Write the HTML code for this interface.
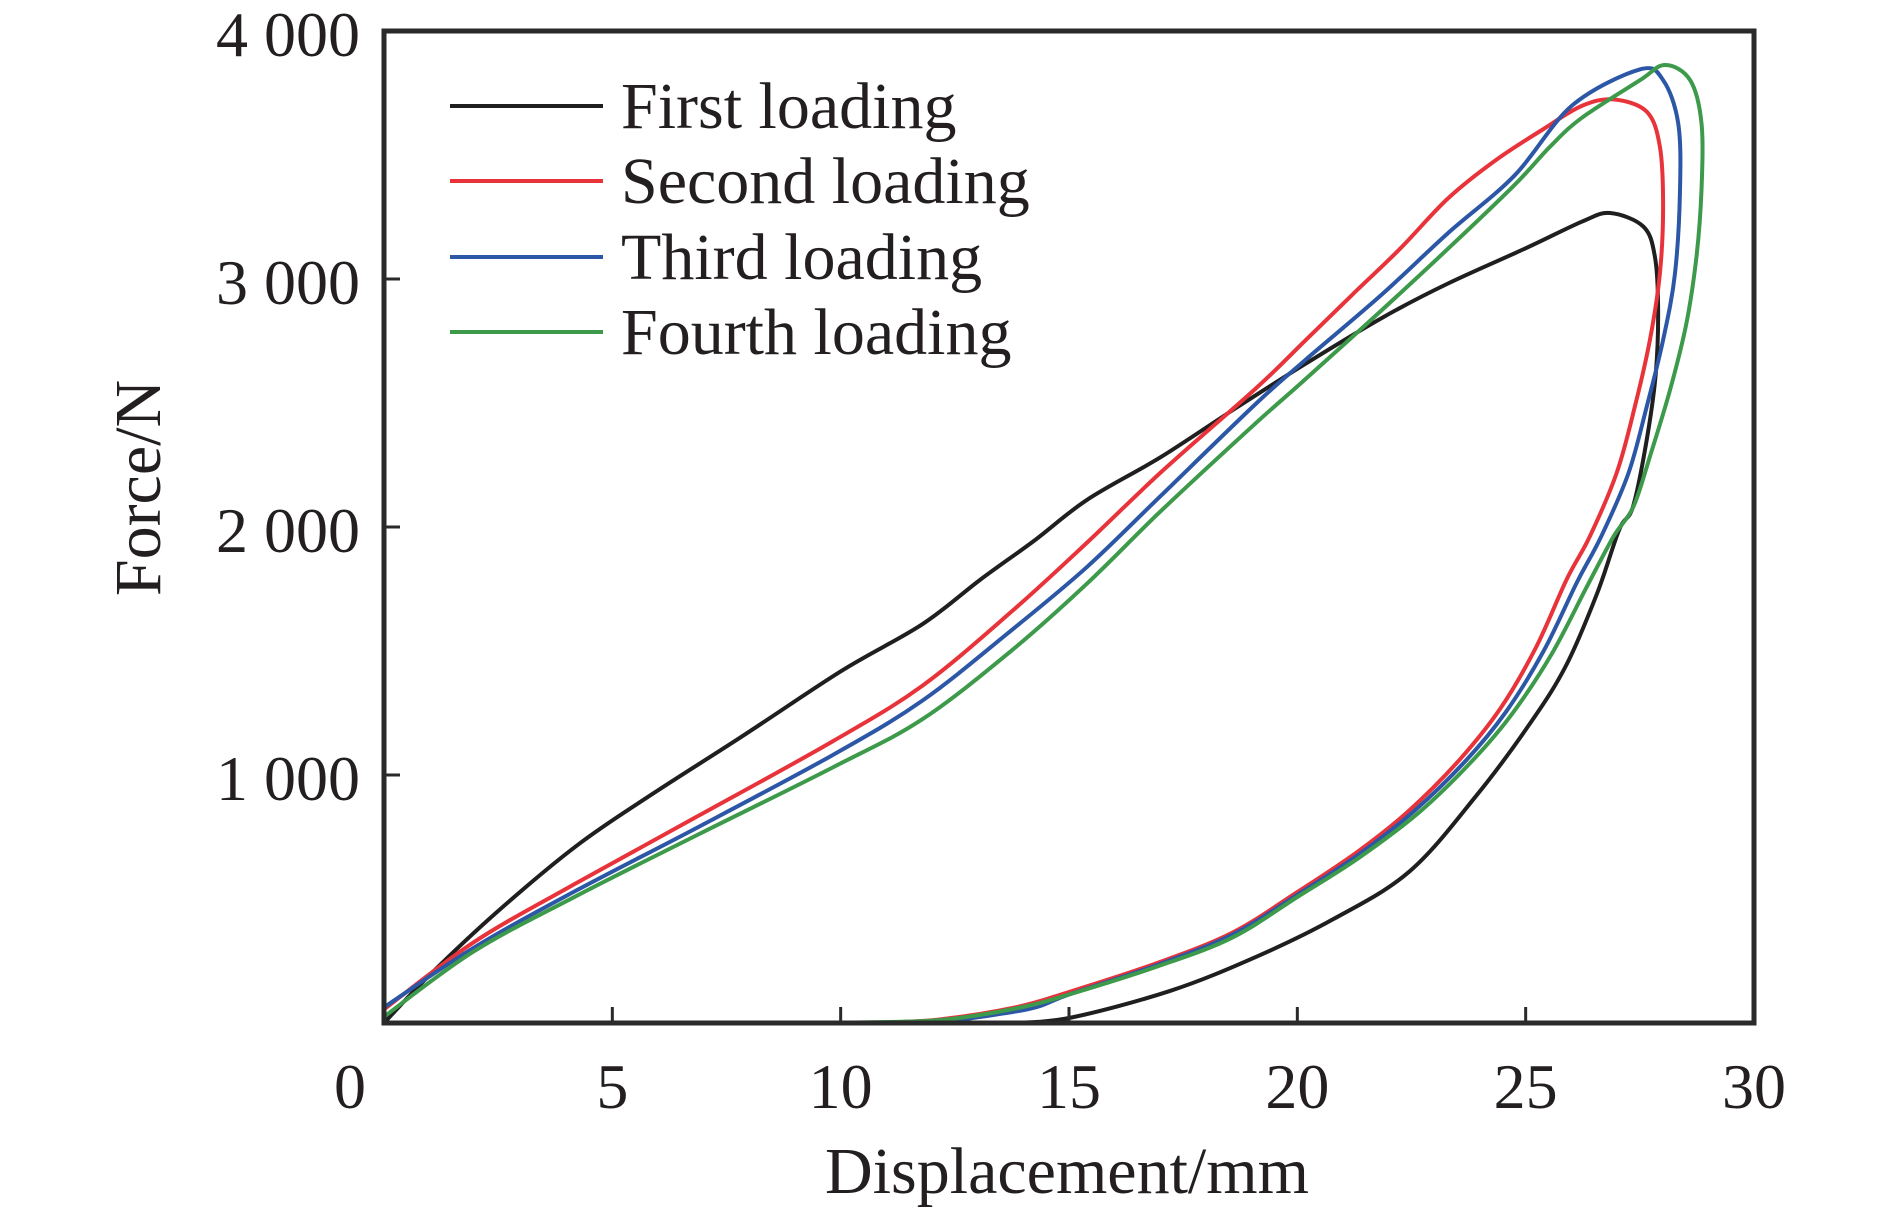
<!DOCTYPE html>
<html><head><meta charset="utf-8"><style>
html,body{margin:0;padding:0;background:#fff;}
svg{display:block;}
text{font-family:"Liberation Serif",serif;fill:#231f20;}
</style></head><body>
<svg id="chart" width="1890" height="1211" viewBox="0 0 1890 1211" xmlns="http://www.w3.org/2000/svg">
<g id="series"></g>
<g id="axes"></g>
<g id="legend"></g>
</svg>
<script>
const xTicks = [0, 5, 10, 15, 20, 25, 30];
const yTicks = [0, 1000, 2000, 3000, 4000];
const yTickLabels = ["0", "1 000", "2 000", "3 000", "4 000"];
const seriesNames = ["First loading", "Second loading", "Third loading", "Fourth loading"];
const seriesColors = ["#1f1f1f", "#e8333a", "#2c57a6", "#3c9a4a"];
const firstX = [0,0.98,2.46,4.22,5.89,7.86,10.02,11.79,13.06,14.24,15.4,17.01,18.69,20.16,21.84,23.3,24.98,26.23,26.85,27.58,27.83,27.9,27.85,27.65,27.35,27.05,26.57,25.9,25.12,23.9,22.45,20.78,19.1,17.22,15,13.66];
const firstY = [0,190,445,715,925,1158,1420,1608,1788,1945,2110,2282,2484,2656,2842,2982,3122,3231,3266,3211,3090,2888,2620,2351,2082,1990,1735,1447,1214,912,610,418,267,130,20,0];
const secondX = [0,1.96,4.22,6.88,9.82,11.79,13.75,15.4,17.01,19.11,20.16,21.2,22.25,23.3,24.35,25.39,26.23,26.92,27.65,27.94,28.01,27.94,27.72,27.39,26.99,26.4,25.9,25.23,24.45,23.56,22.45,21.34,20,18.56,16.9,15,13.87,12.19,10.8];
const secondY = [55,325,565,835,1135,1360,1660,1938,2220,2562,2749,2936,3122,3325,3480,3605,3698,3724,3675,3533,3291,3023,2754,2485,2216,1960,1790,1516,1269,1063,857,693,528,363,240,125,65,15,0];
const thirdX = [0,1.96,4.22,6.88,9.82,11.79,13.75,15.4,17.01,19.11,20.16,21.84,23.3,24.76,26.02,27.5,28.01,28.34,28.38,28.27,28.01,27.65,27.25,26.65,26.12,25.4,24.57,23.68,22.56,21.34,20,18.56,16.9,15,14.08,12.1];
const thirdY = [63,303,535,790,1080,1300,1585,1840,2126,2500,2671,2936,3185,3418,3700,3845,3802,3628,3359,3023,2754,2485,2216,1960,1776,1502,1255,1056,855,679,517,355,232,115,55,0];
const fourthX = [0,1.96,4.22,6.88,9.82,11.79,13.75,15.4,17.01,19.11,20.16,21.84,23.3,24.76,25.53,26.23,27.49,28.05,28.6,28.85,28.85,28.74,28.52,28.16,27.72,27.36,26.92,26.35,25.57,24.68,23.79,22.67,21.34,20,18.56,16.9,15,13.87,12.19,10.31];
const fourthY = [25,288,513,760,1030,1225,1503,1773,2064,2422,2593,2873,3122,3380,3533,3650,3800,3863,3802,3628,3359,3090,2821,2552,2284,2082,1960,1763,1488,1241,1049,850,665,508,343,226,115,60,12,2];

const X0 = 384, X1 = 1754, Y0 = 1023, Y1 = 31;
function sx(v){ return X0 + (v - 0) / 30 * (X1 - X0); }
function sy(v){ return Y0 - (v - 0) / 4000 * (Y0 - Y1); }
const NS = "http://www.w3.org/2000/svg";
function mk(tag, attrs, parent){
  const e = document.createElementNS(NS, tag);
  for (const k in attrs) e.setAttribute(k, attrs[k]);
  parent.appendChild(e); return e;
}
function smoothPath(xs, ys){
  const p = xs.map((x,i)=>[sx(x), sy(ys[i])]);
  let d = "M" + p[0][0].toFixed(1) + "," + p[0][1].toFixed(1);
  for (let i = 0; i < p.length - 1; i++){
    const a = p[Math.max(i-1,0)], b = p[i], c = p[i+1], e = p[Math.min(i+2,p.length-1)];
    const c1 = [b[0] + (c[0]-a[0])/6, b[1] + (c[1]-a[1])/6];
    const c2 = [c[0] - (e[0]-b[0])/6, c[1] - (e[1]-b[1])/6];
    d += " C" + c1.map(v=>v.toFixed(1)).join(",") + " " + c2.map(v=>v.toFixed(1)).join(",") + " " + c.map(v=>v.toFixed(1)).join(",");
  }
  return d;
}
const seriesG = document.getElementById("series");
const allX = [firstX, secondX, thirdX, fourthX];
const allY = [firstY, secondY, thirdY, fourthY];
const seriesKeys = ["first-loading-curve", "second-loading-curve", "third-loading-curve", "fourth-loading-curve"];
for (let s = 0; s < 4; s++){
  const path = mk("path", {d: smoothPath(allX[s], allY[s]), fill: "none", stroke: seriesColors[s], "stroke-width": 4, "stroke-linejoin": "round", "stroke-linecap": "round"}, seriesG);
  
  
}
const axesG = document.getElementById("axes");
const frame = mk("rect", {x: X0, y: Y1, width: X1 - X0, height: Y0 - Y1, fill: "none", stroke: "#2a2a2a", "stroke-width": 5}, axesG);


xTicks.forEach((t) => {
  if (t > 0 && t < 30){
    const tk = mk("line", {x1: sx(t), x2: sx(t), y1: Y0, y2: Y0 - 16, stroke: "#2a2a2a", "stroke-width": 3}, axesG);
    
    
  }
  const lb = mk("text", {x: t === 0 ? 350 : sx(t), y: 1108, "font-size": 64, "text-anchor": "middle"}, axesG);
  lb.textContent = String(t);
  
  
});
yTicks.forEach((t, i) => {
  if (t > 0 && t < 4000){
    const tk = mk("line", {x1: X0, x2: X0 + 16, y1: sy(t), y2: sy(t), stroke: "#2a2a2a", "stroke-width": 3}, axesG);
    
    
  }
  if (t === 0) return;
  const lb = mk("text", {x: 360, y: sy(t) + 25, "font-size": 64, "text-anchor": "end"}, axesG);
  lb.textContent = yTickLabels[i];
  
  
});
const xt = mk("text", {x: 1067, y: 1193, "font-size": 66, "text-anchor": "middle"}, axesG);
xt.textContent = "Displacement/mm";


const yt = mk("text", {x: 0, y: 0, "font-size": 66, "text-anchor": "middle", transform: "translate(160,488) rotate(-90)"}, axesG);
yt.textContent = "Force/N";


const legG = document.getElementById("legend");
const legRows = [116, 191, 267, 342];
seriesNames.forEach((n, i) => {
  const ln = mk("line", {x1: 450, x2: 603, y1: legRows[i] - 10, y2: legRows[i] - 10, stroke: seriesColors[i], "stroke-width": 4}, legG);
  
  
  const tx = mk("text", {x: 621, y: legRows[i] + 12, "font-size": 66}, legG);
  tx.textContent = n;
  
  
});
</script>
</body></html>
